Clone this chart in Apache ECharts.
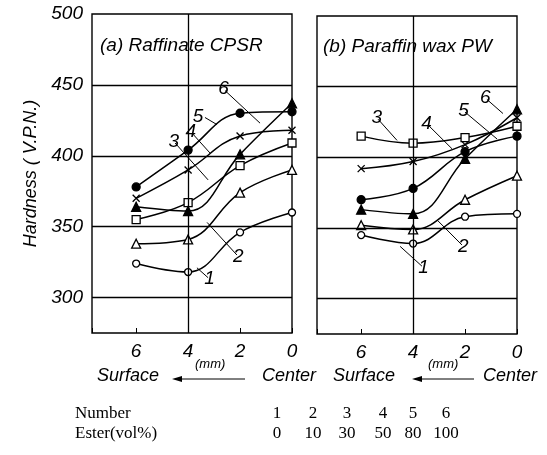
<!DOCTYPE html>
<html>
<head>
<meta charset="utf-8">
<script src="https://cdn.jsdelivr.net/npm/echarts@6/dist/echarts.min.js"></script>
<style>
  html, body { margin: 0; padding: 0; background: #fff; }
  #chart { width: 547px; height: 455px; }
</style>
</head>
<body>
<div id="chart"></div>
<script>
// depth from surface (mm), 6 = near surface, 0 = center
const depths = [6, 4, 2, 0];
const seriesNames = ['1', '2', '3', '4', '5', '6'];
const esterPct = ['0', '10', '30', '50', '80', '100'];
const yTicks = [300, 350, 400, 450, 500];
const xTicks = [0, 2, 4, 6];

// (a) Raffinate CPSR
const cpsr1 = [324, 318, 346, 360];
const cpsr2 = [338, 341, 374, 390];
const cpsr3 = [355, 367, 393, 409];
const cpsr4 = [370, 390, 414, 418];
const cpsr5 = [378, 404, 430, 431];
const cpsr6 = [364, 361, 401, 437];

// (b) Paraffin wax PW
const pw1 = [345, 339, 358, 360];
const pw2 = [352, 349, 370, 387];
const pw3 = [415, 410, 414, 422];
const pw4 = [392, 397, 409, 428];
const pw5 = [370, 378, 404, 415];
const pw6 = [363, 360, 399, 434];

// leader arrows for the curve numbers: [fromX, fromY, toX, toY] in data units
const cpsrArrows = [
  [3.23, 314, 3.66, 321],
  [2.12, 330, 3.27, 353],
  [4.5, 409, 3.23, 383],
  [3.85, 416, 3.16, 402],
  [3.35, 427, 2.89, 422],
  [2.58, 446, 1.23, 423]
];
const pwArrows = [
  [3.66, 323, 4.5, 337],
  [2.12, 338, 3.04, 355],
  [5.35, 427, 4.62, 412],
  [3.43, 423, 2.5, 406],
  [2.0, 432, 0.77, 413],
  [1.16, 441, 0.54, 431]
];

const hand = '"Liberation Sans Narrow", "Liberation Sans", sans-serif';
const serif = '"Liberation Serif", "DejaVu Serif", serif';

const cross = 'path://M0,0L10,10M10,0L0,10';
const markers = [
  { symbol: 'circle', size: 7, fill: '#fff' },
  { symbol: 'triangle', size: 9, fill: '#fff' },
  { symbol: 'rect', size: 8, fill: '#fff' },
  { symbol: cross, size: 7, fill: 'none' },
  { symbol: 'circle', size: 8, fill: '#000' },
  { symbol: 'triangle', size: 9, fill: '#000' }
];

function makeSeries(values, arrows, gi) {
  return values.map((vals, i) => ({
    name: seriesNames[i],
    type: 'line',
    xAxisIndex: gi,
    yAxisIndex: gi,
    data: depths.map((d, k) => [d, vals[k]]),
    smooth: 0.4,
    symbol: markers[i].symbol,
    symbolSize: markers[i].size,
    showAllSymbol: true,
    lineStyle: { color: '#000', width: 1.5 },
    itemStyle: { color: markers[i].fill, borderColor: '#000', borderWidth: 1.3 },
    z: 3,
    markLine: {
      silent: true,
      symbol: ['none', 'arrow'],
      symbolSize: [0, 7],
      lineStyle: { color: '#000', width: 1, type: 'solid' },
      label: {
        show: true, position: 'start', distance: 2,
        formatter: seriesNames[i],
        fontFamily: hand, fontStyle: 'italic', fontSize: 19, color: '#000'
      },
      data: [[
        { coord: [arrows[i][0], arrows[i][1]] },
        { coord: [arrows[i][2], arrows[i][3]] }
      ]]
    }
  }));
}

function gridLines(gi) {
  return {
    type: 'line', xAxisIndex: gi, yAxisIndex: gi, data: [],
    markLine: {
      silent: true, symbol: 'none', label: { show: false },
      lineStyle: { color: '#000', width: 1.3, type: 'solid' },
      data: yTicks.filter(v => v < 500).map(v => ({ yAxis: v })).concat([{ xAxis: 4 }])
    }
  };
}

const chart = echarts.init(document.getElementById('chart'));

const axisFont = { fontFamily: hand, fontStyle: 'italic', fontSize: 19, color: '#000' };
const tableCols = [277, 313, 347, 383, 413, 446];

const option = {
  animation: false,
  backgroundColor: '#fff',
  grid: [
    { left: 92, top: 14, width: 200, height: 319, show: true, borderColor: '#000', borderWidth: 1.4 },
    { left: 317, top: 16, width: 200, height: 318, show: true, borderColor: '#000', borderWidth: 1.4 }
  ],
  xAxis: [0, 1].map(gi => ({
    type: 'value', gridIndex: gi, min: 0, max: 7.7, interval: 2, inverse: true,
    axisLine: { show: false },
    axisTick: { show: true, inside: true, length: 5, lineStyle: { color: '#000' } },
    splitLine: { show: false },
    axisLabel: Object.assign({ margin: 9, formatter: v => (xTicks.indexOf(v) >= 0 ? String(v) : '') }, axisFont)
  })),
  yAxis: [
    {
      type: 'value', gridIndex: 0, min: 275, max: 500, interval: 25,
      name: 'Hardness ( V.P.N.)', nameLocation: 'middle', nameGap: 52, nameRotate: 90,
      nameTextStyle: { fontFamily: hand, fontStyle: 'italic', fontSize: 18, color: '#000' },
      axisLine: { show: false }, axisTick: { show: false }, splitLine: { show: false },
      axisLabel: Object.assign({ margin: 9, formatter: v => (yTicks.indexOf(v) >= 0 ? String(v) : '') }, axisFont)
    },
    {
      type: 'value', gridIndex: 1, min: 275, max: 500, interval: 25,
      axisLine: { show: false }, axisTick: { show: false }, splitLine: { show: false },
      axisLabel: { show: false }
    }
  ],
  series: [gridLines(0), gridLines(1)]
    .concat(makeSeries([cpsr1, cpsr2, cpsr3, cpsr4, cpsr5, cpsr6], cpsrArrows, 0))
    .concat(makeSeries([pw1, pw2, pw3, pw4, pw5, pw6], pwArrows, 1)),
  graphic: [
    { type: 'text', left: 100, top: 36, style: { text: '(a) Raffinate CPSR', font: 'italic 19px ' + hand, fill: '#000' } },
    { type: 'text', left: 323, top: 37, style: { text: '(b) Paraffin wax PW', font: 'italic 19px ' + hand, fill: '#000' } },
    // bottom direction captions
    { type: 'text', left: 97, top: 367, style: { text: 'Surface', font: 'italic 18px ' + hand, fill: '#000' } },
    { type: 'text', left: 195, top: 358, style: { text: '(mm)', font: 'italic 13px ' + hand, fill: '#000' } },
    { type: 'line', shape: { x1: 245, y1: 379, x2: 176, y2: 379 }, style: { stroke: '#000', lineWidth: 1 } },
    { type: 'polygon', shape: { points: [[172, 379], [182, 376], [182, 382]] }, style: { fill: '#000' } },
    { type: 'text', left: 262, top: 367, style: { text: 'Center', font: 'italic 18px ' + hand, fill: '#000' } },
    { type: 'text', left: 333, top: 367, style: { text: 'Surface', font: 'italic 18px ' + hand, fill: '#000' } },
    { type: 'text', left: 428, top: 358, style: { text: '(mm)', font: 'italic 13px ' + hand, fill: '#000' } },
    { type: 'line', shape: { x1: 474, y1: 379, x2: 416, y2: 379 }, style: { stroke: '#000', lineWidth: 1 } },
    { type: 'polygon', shape: { points: [[412, 379], [422, 376], [422, 382]] }, style: { fill: '#000' } },
    { type: 'text', left: 483, top: 367, style: { text: 'Center', font: 'italic 18px ' + hand, fill: '#000' } },
    // legend table
    { type: 'text', left: 75, top: 405, style: { text: 'Number', font: '17px ' + serif, fill: '#000' } },
    { type: 'text', left: 75, top: 425, style: { text: 'Ester(vol%)', font: '17px ' + serif, fill: '#000' } }
  ].concat(seriesNames.map((n, i) => ({
    type: 'text', x: tableCols[i], y: 405,
    style: { text: n, font: '17px ' + serif, fill: '#000', align: 'center' }
  }))).concat(esterPct.map((p, i) => ({
    type: 'text', x: tableCols[i], y: 425,
    style: { text: p, font: '17px ' + serif, fill: '#000', align: 'center' }
  })))
};

chart.setOption(option);
</script>
</body>
</html>
